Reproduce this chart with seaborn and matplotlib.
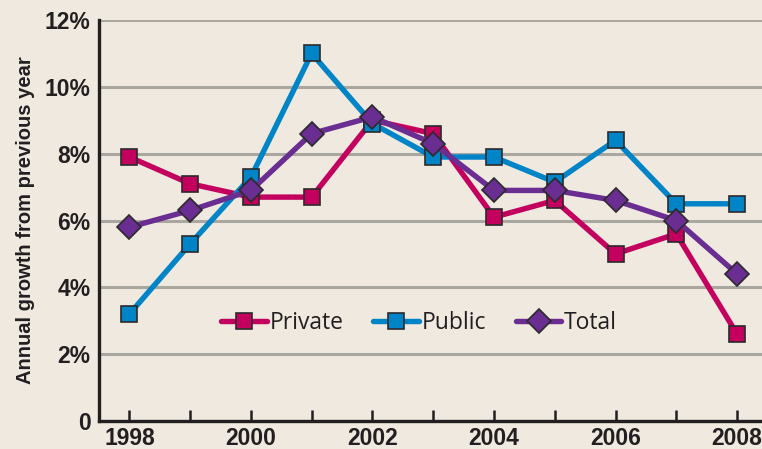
import matplotlib
matplotlib.use("Agg")
import matplotlib.pyplot as plt
import seaborn as sns
import pandas as pd
from matplotlib.ticker import FixedLocator, FuncFormatter

years = list(range(1998, 2009))
private = [7.9, 7.1, 6.7, 6.7, 9.0, 8.6, 6.1, 6.6, 5.0, 5.6, 2.6]
public = [3.2, 5.3, 7.3, 11.0, 8.9, 7.9, 7.9, 7.15, 8.4, 6.5, 6.5]
total = [5.8, 6.3, 6.9, 8.6, 9.1, 8.3, 6.9, 6.9, 6.6, 6.0, 4.4]
series_names = ["Private", "Public", "Total"]
y_ticks = [0, 2, 4, 6, 8, 10, 12]
x_label_years = [1998, 2000, 2002, 2004, 2006, 2008]

bg = "#efe9e0"
colors = {"Private": "#c4005f", "Public": "#0084c8", "Total": "#6a2d92"}
markers = {"Private": "s", "Public": "s", "Total": "D"}
msizes = {"Private": 11.5, "Public": 11.5, "Total": 12.5}

sns.set_theme(style="white")
plt.rcParams["font.family"] = ["Liberation Sans", "DejaVu Sans"]

fig = plt.figure(figsize=(7.62, 4.49), dpi=100, facecolor=bg)
ax = fig.add_axes([99 / 762, 1 - 421 / 449, (762 - 99) / 762, (421 - 20) / 449])
ax.set_facecolor(bg)

values = {"Private": private, "Public": public, "Total": total}
zorders = {"Private": 3, "Public": 4, "Total": 5}
for name in series_names:
    df = pd.DataFrame({"year": years, "value": values[name]})
    sns.lineplot(data=df, x="year", y="value", ax=ax, color=colors[name],
                 linewidth=3.9, marker=markers[name], markersize=msizes[name],
                 markeredgecolor="#2b2b2b", markeredgewidth=1.2,
                 label=name, zorder=zorders[name], clip_on=False)

ax.set_xlim(1997.5, 2008.41)
ax.set_ylim(0, 12)

ax.yaxis.set_major_locator(FixedLocator(y_ticks))
ax.yaxis.set_major_formatter(FuncFormatter(lambda v, p: "0" if v == 0 else f"{int(v)}%"))
ax.grid(axis="y", color="#aaa6a0", linewidth=2.2, zorder=0)
ax.grid(axis="x", visible=False)
ax.set_axisbelow(True)

ax.xaxis.set_major_locator(FixedLocator(years))
ax.xaxis.set_major_formatter(FuncFormatter(lambda v, p: str(int(v)) if int(v) in x_label_years else ""))

for s in ["top", "right"]:
    ax.spines[s].set_visible(False)
for s in ["left", "bottom"]:
    ax.spines[s].set_color("#231f20")
    ax.spines[s].set_linewidth(2.4)

ax.tick_params(axis="x", direction="in", length=8, width=1.8, color="#231f20",
               labelsize=16.5, pad=4, labelcolor="#231f20", bottom=True)
ax.tick_params(axis="y", length=0, labelsize=16.5, pad=6, labelcolor="#231f20", left=True)
for lab in ax.get_xticklabels() + ax.get_yticklabels():
    lab.set_fontweight("bold")

ax.set_xlabel("")
ax.set_ylabel("Annual growth from previous year", fontsize=14.5, fontweight="bold",
              color="#231f20", labelpad=7)

leg = ax.legend(loc="center", bbox_to_anchor=(419 / 762, 1 - 323 / 449),
                bbox_transform=fig.transFigure, ncol=3, frameon=False,
                handlelength=2.0, handletextpad=0.1, columnspacing=1.3,
                prop={"family": "Open Sans", "size": 16.5})
for t in leg.get_texts():
    t.set_color("#231f20")

fig.savefig("out.png", dpi=100, facecolor=bg)
